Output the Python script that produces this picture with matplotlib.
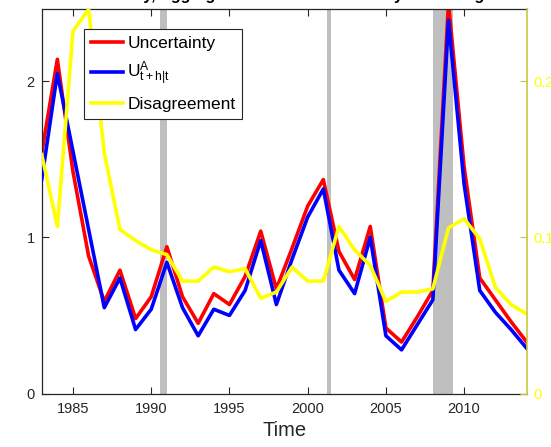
import matplotlib
matplotlib.use("Agg")
import matplotlib.pyplot as plt

plt.rcParams["font.family"] = ["Liberation Sans", "DejaVu Sans"]
plt.rcParams["mathtext.fontset"] = "custom"
plt.rcParams["mathtext.rm"] = "Liberation Sans"
plt.rcParams["mathtext.it"] = "Liberation Sans"

# Data
years = [1983, 1984, 1985, 1986, 1987, 1988, 1989, 1990, 1991, 1992, 1993,
         1994, 1995, 1996, 1997, 1998, 1999, 2000, 2001, 2002, 2003, 2004,
         2005, 2006, 2007, 2008, 2009, 2010, 2011, 2012, 2013, 2014]
uncertainty = [1.54, 2.14, 1.42, 0.88, 0.59, 0.79, 0.48, 0.62, 0.94, 0.62, 0.45,
               0.64, 0.57, 0.75, 1.04, 0.67, 0.93, 1.20, 1.37, 0.91, 0.73, 1.07,
               0.42, 0.33, 0.49, 0.66, 2.50, 1.45, 0.74, 0.60, 0.46, 0.33]
agg_unc = [1.37, 2.05, 1.55, 1.05, 0.55, 0.74, 0.41, 0.54, 0.84, 0.55, 0.37,
           0.54, 0.50, 0.66, 0.98, 0.57, 0.86, 1.13, 1.31, 0.79, 0.64, 1.00,
           0.37, 0.28, 0.44, 0.60, 2.39, 1.34, 0.66, 0.52, 0.41, 0.29]
disagreement = [0.153, 0.107, 0.232, 0.246, 0.154, 0.105, 0.098, 0.092, 0.089,
                0.072, 0.072, 0.081, 0.078, 0.080, 0.061, 0.065, 0.081, 0.072,
                0.072, 0.107, 0.092, 0.082, 0.059, 0.065, 0.065, 0.067, 0.106,
                0.112, 0.099, 0.068, 0.057, 0.051]
rec_start = [1990.55, 2001.25, 2008.0]
rec_end = [1991.04, 2001.52, 2009.28]

labels = ["Uncertainty", r"$\mathrm{U}^{\mathrm{A}}_{\mathrm{t+h|t}}$", "Disagreement"]
xticks = [1985, 1990, 1995, 2000, 2005, 2010]

DARK = "#262626"
SPINE_Y = "#c8c83c"

fig = plt.figure(figsize=(5.51, 4.47), dpi=100)
ax = fig.add_axes([0.0757, 0.1195, 0.8802, 0.8597])
ax2 = ax.twinx()

# recession bars
for s, e in zip(rec_start, rec_end):
    ax.axvspan(s, e, color="#bfbfbf", lw=0, zorder=0)

l1, = ax.plot(years, uncertainty, color="#ff0000", lw=2.6, zorder=2)
l2, = ax.plot(years, agg_unc, color="#0000ff", lw=2.6, zorder=3)
l3, = ax2.plot(years, disagreement, color="#ffff00", lw=2.6)

ax.set_xlim(1983, 2014)
ax.set_ylim(0, 2.46)
ax2.set_ylim(0, 0.246)
ax.set_xticks(xticks)
ax.set_yticks([0, 1, 2])
ax2.set_yticks([0, 0.1, 0.2])
ax2.set_yticklabels(["0", "0.1", "0.2"])

ax.tick_params(axis="x", direction="in", length=5, width=0.8, colors=DARK,
               labelsize=10.5, pad=6, top=True)
ax.tick_params(axis="y", direction="in", length=5, width=0.8, colors=DARK,
               labelsize=10.5, pad=5, right=False)
ax2.tick_params(axis="y", direction="in", length=5, width=0.8, color=SPINE_Y,
                labelcolor="#ffff00", labelsize=10.5, pad=5)

for name in ["left", "bottom", "top"]:
    ax.spines[name].set_color(DARK)
    ax.spines[name].set_linewidth(0.9)
ax.spines["right"].set_visible(False)
ax2.spines["left"].set_visible(False)
ax2.spines["top"].set_visible(False)
ax2.spines["bottom"].set_visible(False)
ax2.spines["right"].set_color(SPINE_Y)
ax2.spines["right"].set_linewidth(1.2)

ax.set_xlabel("Time", fontsize=14.5, color=DARK, labelpad=4)

leg = ax2.legend([l1, l2, l3], labels, loc="upper left",
                 bbox_to_anchor=(0.0872, 0.9487), borderaxespad=0,
                 fontsize=12.5, handlelength=1.85, handletextpad=0.25,
                 labelspacing=0.5, borderpad=0.4, fancybox=False,
                 framealpha=1, edgecolor=DARK)
leg.get_frame().set_linewidth(0.8)

# title, mostly clipped by the top edge like in the reference
fig.text(0.5157, 1 - 0.3 / 447,
         "Total Uncertainty, Aggregate Forecast Uncertainty and Disagreement",
         ha="center", va="baseline", fontsize=11.5, fontweight="bold",
         color="black")

fig.savefig("out.png", dpi=100)
